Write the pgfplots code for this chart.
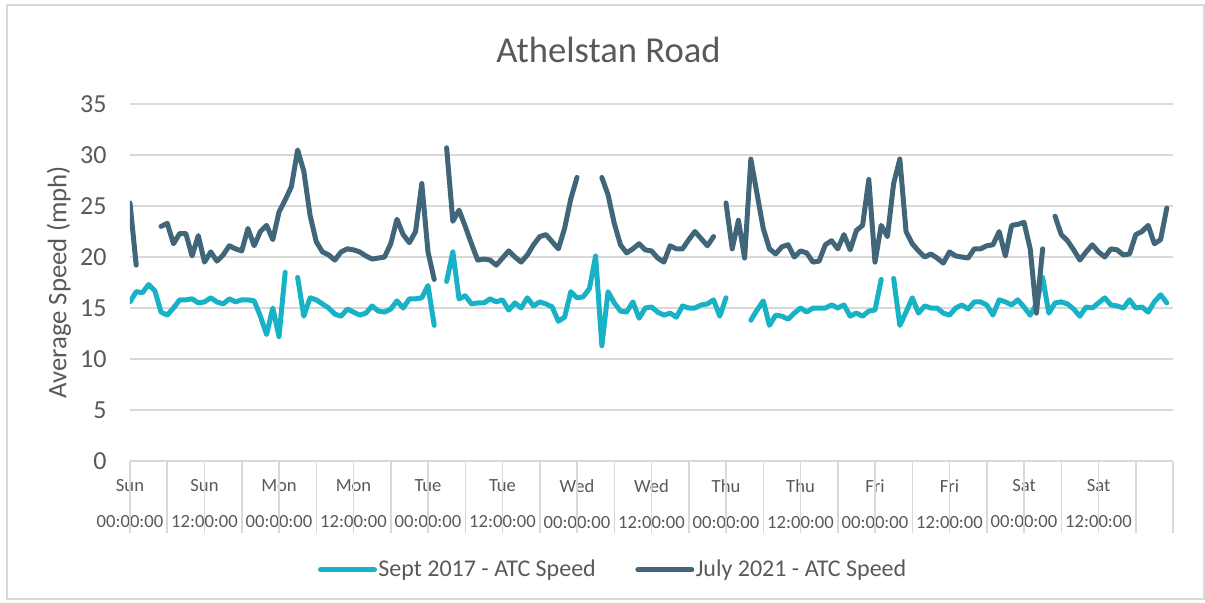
\documentclass[border=0pt]{standalone}
\usepackage{pgfplots}
\pgfplotsset{compat=1.18}
\usepackage{pgfplotstable}
\usepackage{fontspec}
\setmainfont{Carlito}

\definecolor{sept}{HTML}{18B2C6}
\definecolor{july}{HTML}{41667A}
\definecolor{txt}{HTML}{595959}
\definecolor{gridc}{HTML}{D9D9D9}

% hour of week (0 = Sun 00:00), average speed in mph; nan = no count
\pgfplotstableread{
h v
0 15.6
1 16.6
2 16.5
3 17.3
4 16.7
5 14.6
6 14.3
7 15.0
8 15.8
9 15.8
10 15.9
11 15.5
12 15.6
13 16.0
14 15.6
15 15.4
16 15.9
17 15.6
18 15.8
19 15.8
20 15.7
21 14.2
22 12.4
23 15.0
24 12.2
25 18.5
26 nan
27 18.0
28 14.2
29 16.0
30 15.8
31 15.4
32 15.0
33 14.4
34 14.2
35 14.9
36 14.6
37 14.3
38 14.5
39 15.2
40 14.7
41 14.6
42 14.9
43 15.7
44 15.0
45 15.9
46 15.9
47 16.0
48 17.2
49 13.3
50 nan
51 17.6
52 20.5
53 15.9
54 16.2
55 15.4
56 15.5
57 15.5
58 15.9
59 15.6
60 15.8
61 14.8
62 15.5
63 15.0
64 16.0
65 15.2
66 15.6
67 15.4
68 15.1
69 13.7
70 14.1
71 16.6
72 16.0
73 16.1
74 16.9
75 20.1
76 11.3
77 16.6
78 15.5
79 14.7
80 14.6
81 15.6
82 14.0
83 15.0
84 15.1
85 14.6
86 14.3
87 14.5
88 14.1
89 15.2
90 15.0
91 15.0
92 15.3
93 15.4
94 15.8
95 14.2
96 16.0
97 nan
98 nan
99 nan
100 13.8
101 14.8
102 15.7
103 13.3
104 14.3
105 14.2
106 13.9
107 14.5
108 15.0
109 14.6
110 15.0
111 15.0
112 15.0
113 15.3
114 15.0
115 15.3
116 14.2
117 14.5
118 14.2
119 14.7
120 14.8
121 17.8
122 nan
123 17.9
124 13.3
125 14.6
126 16.0
127 14.5
128 15.2
129 15.0
130 15.0
131 14.5
132 14.3
133 15.0
134 15.3
135 14.9
136 15.6
137 15.6
138 15.3
139 14.3
140 15.8
141 15.6
142 15.3
143 15.8
144 15.1
145 14.3
146 15.4
147 18.0
148 14.5
149 15.5
150 15.6
151 15.4
152 14.9
153 14.2
154 15.1
155 15.0
156 15.5
157 16.0
158 15.3
159 15.2
160 15.0
161 15.8
162 15.0
163 15.1
164 14.6
165 15.6
166 16.3
167 15.5
}\septdata

\pgfplotstableread{
h v
0 25.3
1 19.2
2 nan
3 nan
4 nan
5 23.0
6 23.3
7 21.3
8 22.3
9 22.3
10 20.1
11 22.1
12 19.5
13 20.5
14 19.6
15 20.2
16 21.1
17 20.8
18 20.6
19 22.8
20 21.1
21 22.5
22 23.1
23 21.7
24 24.4
25 25.6
26 26.9
27 30.5
28 28.4
29 24.1
30 21.5
31 20.5
32 20.2
33 19.7
34 20.5
35 20.8
36 20.7
37 20.5
38 20.1
39 19.8
40 19.9
41 20.0
42 21.3
43 23.7
44 22.2
45 21.4
46 22.5
47 27.2
48 20.5
49 17.8
50 nan
51 30.7
52 23.5
53 24.6
54 23.0
55 21.3
56 19.7
57 19.8
58 19.7
59 19.2
60 19.9
61 20.6
62 20.0
63 19.5
64 20.2
65 21.2
66 22.0
67 22.2
68 21.5
69 20.8
70 22.8
71 25.7
72 27.8
73 nan
74 nan
75 nan
76 27.8
77 26.1
78 23.3
79 21.2
80 20.4
81 20.8
82 21.3
83 20.7
84 20.6
85 19.9
86 19.5
87 21.1
88 20.8
89 20.8
90 21.7
91 22.5
92 21.8
93 21.1
94 22.0
95 nan
96 25.3
97 20.8
98 23.6
99 19.9
100 29.6
101 26.2
102 22.8
103 20.8
104 20.3
105 21.0
106 21.2
107 20.0
108 20.6
109 20.4
110 19.5
111 19.6
112 21.2
113 21.6
114 20.8
115 22.2
116 20.7
117 22.6
118 23.1
119 27.6
120 19.5
121 23.1
122 22.0
123 27.2
124 29.6
125 22.5
126 21.3
127 20.6
128 20.0
129 20.3
130 19.9
131 19.4
132 20.5
133 20.1
134 20.0
135 19.9
136 20.8
137 20.8
138 21.1
139 21.2
140 22.5
141 20.1
142 23.1
143 23.2
144 23.4
145 20.8
146 14.5
147 20.8
148 nan
149 24.0
150 22.2
151 21.6
152 20.7
153 19.7
154 20.5
155 21.2
156 20.5
157 20.0
158 20.8
159 20.7
160 20.2
161 20.3
162 22.2
163 22.5
164 23.1
165 21.3
166 21.7
167 24.8
}\julydata

\begin{document}
\begin{tikzpicture}
% page = 1205 x 602 px at 0.5pt per px, plot area corner at px (130,461)
\path (-65pt,-70.5pt) rectangle (537.5pt,230.5pt);
\draw[gridc, line width=0.75pt] (-61.5pt,-69pt) rectangle (537pt,228pt);

\begin{axis}[
  width=521.5pt, height=178.5pt, scale only axis,
  xmin=0, xmax=168, ymin=0, ymax=35,
  ytick={0,5,...,35},
  xtick={0,12,...,156},
  xticklabels={{Sun\\00:00:00},{Sun\\12:00:00},{Mon\\00:00:00},{Mon\\12:00:00},
    {Tue\\00:00:00},{Tue\\12:00:00},{Wed\\00:00:00},{Wed\\12:00:00},
    {Thu\\00:00:00},{Thu\\12:00:00},{Fri\\00:00:00},{Fri\\12:00:00},
    {Sat\\00:00:00},{Sat\\12:00:00}},
  ymajorgrids, grid style={gridc, line width=0.75pt},
  axis line style={draw=none},
  major tick length=0pt,
  tick label style={text=txt},
  /pgf/number format/assume math mode=true,
  yticklabel style={font=\fontsize{13}{15}\selectfont, inner sep=0pt, xshift=-11.5pt},
  xticklabel style={font=\fontsize{9.3}{18}\selectfont, align=center, inner sep=0pt, yshift=-9pt},
  unbounded coords=jump,
  legend columns=2,
  legend style={at={(0.463,-0.305)}, anchor=center, draw=none, fill=none,
    font=\fontsize{12}{14}\selectfont, text=txt,
    nodes={inner sep=0.75pt},
    /tikz/every even column/.append style={column sep=19pt}},
  legend image code/.code={\draw[#1] (0pt,0pt) -- (27pt,0pt);},
]
\addplot[sept, line width=2.5pt, line join=round, line cap=round] table[x=h, y=v] {\septdata};
\addlegendentry{Sept 2017 - ATC Speed}
\addplot[july, line width=2.5pt, line join=round, line cap=round] table[x=h, y=v] {\julydata};
\addlegendentry{July 2021 - ATC Speed}
\end{axis}

% long category ticks every 6 hours
\foreach \i in {0,...,28} {
  \draw[gridc, line width=0.75pt] (\i*18.625pt,0pt) -- (\i*18.625pt,-36pt);
}

\node[font=\fontsize{18.3}{20}\selectfont, text=txt, anchor=base] at (239.25pt,199.5pt) {Athelstan Road};
\node[font=\fontsize{13.4}{15}\selectfont, text=txt, rotate=90] at (-35.5pt,89.25pt) {Average Speed (mph)};
\end{tikzpicture}
\end{document}
